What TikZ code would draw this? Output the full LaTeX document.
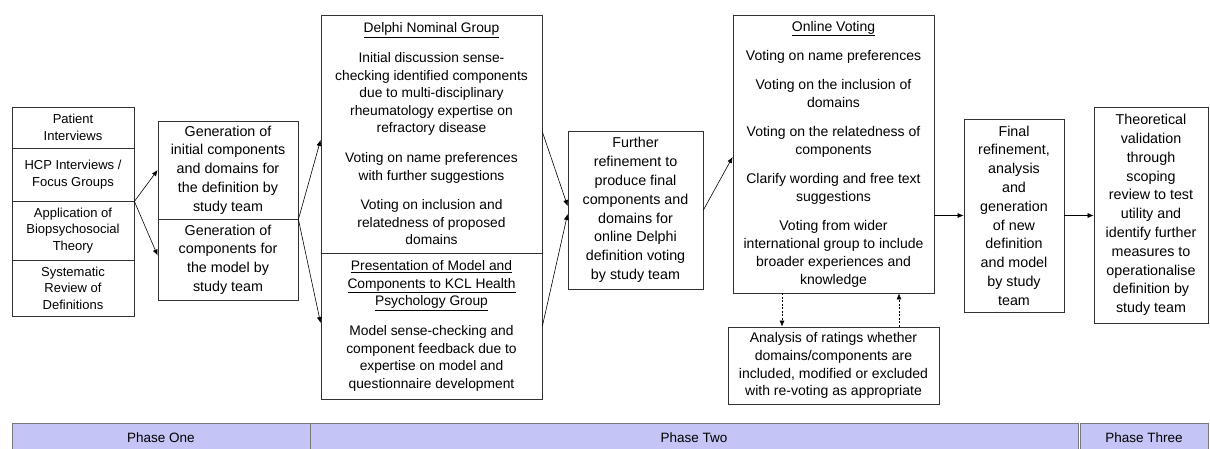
\documentclass[tikz,border=0pt]{standalone}
\usepackage{fontspec}
\setmainfont{Liberation Sans}
\usetikzlibrary{arrows.meta}
\definecolor{phasefill}{RGB}{196,196,246}
\definecolor{phaseline}{RGB}{120,120,120}
\definecolor{boxline}{RGB}{50,50,50}
\begin{document}
\begin{tikzpicture}[x=1pt,y=-1pt,
  box/.style={draw=boxline, line width=0.8pt, rectangle, inner sep=0pt, align=center,
    font=\fontsize{14.3}{18.8}\selectfont},
  srcbox/.style={box, font=\fontsize{13}{16.6}\selectfont, minimum width=122pt},
  dbox/.style={box, font=\fontsize{13.8}{17.6}\selectfont},
  phase/.style={draw=phaseline, line width=0.8pt, fill=phasefill, rectangle, inner sep=0pt,
    minimum height=29pt, font=\fontsize{13.5}{16}\selectfont},
  arr/.style={line width=0.6pt, -{Latex[length=6pt,width=5pt]}},
  darr/.style={arr, dashed, dash pattern=on 2pt off 1.5pt}
]
\useasboundingbox (0,0) rectangle (1210,448);
\clip (0,0) rectangle (1210,448);

% source column
\node[srcbox, minimum height=41pt] (pat) at (73,127.5) {Patient\\Interviews};
\node[srcbox, minimum height=53pt] (hcp) at (73,174.5) {HCP Interviews /\\Focus Groups};
\node[srcbox, minimum height=59pt] (app) at (73,230.5) {Application of\\Biopsychosocial\\Theory};
\node[srcbox, minimum height=56pt] (sys) at (73,288) {Systematic\\Review of\\Definitions};

% phase one generation
\node[box, minimum width=140pt, minimum height=98pt] (gena) at (228,170)
  {Generation of\\initial components\\and domains for\\the definition by\\study team};
\node[box, minimum width=140pt, minimum height=81pt] (genb) at (228,259.5)
  {Generation of\\components for\\the model by\\study team};

% nominal group and psychology group
\node[dbox, minimum width=221pt, minimum height=238pt] (delphi) at (431.5,134)
  {\underline{Delphi Nominal Group}\\[12pt]
   Initial discussion sense-\\checking identified components\\due to multi-disciplinary\\rheumatology expertise on\\refractory disease\\[12pt]
   Voting on name preferences\\with further suggestions\\[12pt]
   Voting on inclusion and\\relatedness of proposed\\domains};
\node[dbox, minimum width=221pt, minimum height=146pt] (pres) at (431.5,326)
  {\underline{Presentation of Model and}\\\underline{Components to KCL Health}\\\underline{Psychology Group}\\[12pt]
   Model sense-checking and\\component feedback due to\\expertise on model and\\questionnaire development};

\node[box, minimum width=135pt, minimum height=158pt] (further) at (635.5,210)
  {Further\\refinement to\\produce final\\components and\\domains for\\online Delphi\\definition voting\\by study team};

% online round
\node[box, font=\fontsize{14}{18}\selectfont, minimum width=201pt, minimum height=278pt] (online) at (833.5,154)
  {\underline{Online Voting}\\[11pt]
   Voting on name preferences\\[11pt]
   Voting on the inclusion of\\domains\\[11pt]
   Voting on the relatedness of\\components\\[11pt]
   Clarify wording and free text\\suggestions\\[11pt]
   Voting from wider\\international group to include\\broader experiences and\\knowledge};
\node[box, font=\fontsize{14}{17.8}\selectfont, minimum width=211pt, minimum height=77pt] (analysis) at (833.5,365.5)
  {Analysis of ratings whether\\domains/components are\\included, modified or excluded\\with re-voting as appropriate};

\node[box, minimum width=100pt, minimum height=193pt] (final) at (1014,215.5)
  {Final\\refinement,\\analysis\\and\\generation\\of new\\definition\\and model\\by study\\team};
\node[box, minimum width=114pt, minimum height=216pt] (theory) at (1151,215)
  {Theoretical\\validation\\through\\scoping\\review to test\\utility and\\identify further\\measures to\\operationalise\\definition by\\study team};

% connectors
\draw[arr] (hcp.south east) -- (gena.west);
\draw[arr] (hcp.south east) -- ([yshift=4pt]genb.west);
\draw[arr] (gena.south east) -- ([yshift=-6pt]delphi.west);
\draw[arr] (gena.south east) -- ([yshift=3pt]pres.west);
\draw[arr] ([yshift=2pt]delphi.east) -- ([yshift=4pt]further.west);
\draw[arr] (pres.east) -- ([yshift=-4pt]further.west);
\draw[arr] (further.east) -- ([yshift=-3pt]online.west);
\draw[arr] (online.east |- final.west) -- (final.west);
\draw[arr] (final.east) -- (final.east -| theory.west);
\draw[darr] ([xshift=-51.5pt]online.south) -- ([xshift=-51.5pt]analysis.north);
\draw[darr] ([xshift=65.5pt]analysis.north) -- ([xshift=65.5pt]online.south);

% phase bar
\node[phase, minimum width=298pt] (p1) at (161,437.5) {Phase One};
\node[phase, minimum width=768pt] (p2) at (694,437.5) {Phase Two};
\node[phase, minimum width=128pt] (p3) at (1144,437.5) {Phase Three};
\end{tikzpicture}
\end{document}
